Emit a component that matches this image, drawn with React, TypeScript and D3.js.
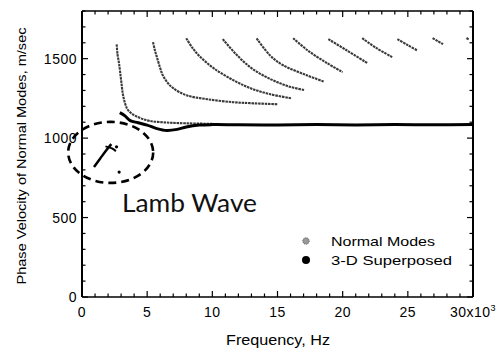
import React from 'react';
import * as d3 from 'd3';

// --- chart data (frequency in kHz, phase velocity in m/sec) ---
const xTicksMajor = [0, 5, 10, 15, 20, 25, 30];
const yTicksMajor = [0, 500, 1000, 1500];

// normal modes, one list of [freq, velocity] per mode
const mode1: [number, number][] = [[2.66, 1590], [2.72, 1530], [2.84, 1470], [2.95, 1400], [3.05, 1330], [3.15, 1270], [3.3, 1220], [3.5, 1180], [3.9, 1150], [4.5, 1125], [5.2, 1108], [6.5, 1098], [8, 1093], [10, 1090]];
const mode2: [number, number][] = [[5.45, 1604], [5.6, 1550], [5.75, 1509], [6.0, 1440], [6.2, 1396], [6.6, 1345], [7.0, 1314], [8.0, 1270], [9.6, 1245], [11.6, 1226], [12.9, 1220], [15.0, 1213]];
const mode3: [number, number][] = [[8.0, 1629], [8.5, 1565], [9.1, 1509], [10.1, 1440], [11.6, 1365], [12.9, 1315], [14.4, 1277], [16.1, 1250]];
const mode4: [number, number][] = [[10.8, 1623], [11.8, 1530], [12.9, 1447], [14.0, 1390], [15.0, 1352], [16.0, 1322], [17.1, 1302]];
const mode5: [number, number][] = [[13.4, 1628], [14.4, 1523], [15.4, 1460], [17.2, 1397], [18.6, 1355]];
const mode6: [number, number][] = [[16.2, 1629], [17.3, 1553], [18.8, 1472], [20.0, 1415]];
const mode7: [number, number][] = [[18.9, 1623], [20.3, 1553], [21.9, 1472]];
const mode8: [number, number][] = [[21.5, 1629], [22.6, 1566], [23.8, 1510]];
const mode9: [number, number][] = [[24.2, 1623], [25.0, 1585], [25.7, 1553]];
const mode10: [number, number][] = [[26.9, 1629], [27.3, 1610], [27.7, 1591]];
const mode11: [number, number][] = [[29.5, 1630], [29.7, 1620]];
const normalModes = [mode1, mode2, mode3, mode4, mode5, mode6, mode7, mode8, mode9, mode10, mode11];

// 3-D superposed result
const superMain: [number, number][] = [[2.9, 1160], [3.3, 1140], [3.7, 1110], [4.3, 1097], [5.0, 1082], [5.75, 1060], [6.5, 1048], [7.3, 1055], [8.0, 1070], [9.0, 1082], [10, 1085], [12, 1084], [15, 1083], [18, 1085], [21, 1083], [24, 1085], [27, 1084], [30, 1085]];
const superLow: [number, number][] = [[0.92, 818], [1.4, 872], [1.85, 922], [2.25, 962]];
const superBar: [number, number][] = [[1.8, 948], [2.3, 935], [2.6, 918]];
const superDots: [number, number][] = [[2.65, 945], [2.85, 786]];

const W = 502, H = 348;
const M = { left: 82, right: 473, top: 11, bottom: 297 };

const App: React.FC = () => {
    const x = d3.scaleLinear().domain([0, 30]).range([M.left, M.right]);
    const y = d3.scaleLinear().domain([0, 1800]).range([M.bottom, M.top]);

    const line = d3.line<[number, number]>()
        .x(d => x(d[0]))
        .y(d => y(d[1]))
        .curve(d3.curveCatmullRom);

    const xMinor = d3.range(0, 31, 1);
    const yMinor = d3.range(0, 1801, 100);
    const font = "'Liberation Sans', Arial, sans-serif";

    return (
        <svg width={W} height={H} style={{ position: 'absolute', left: 0, top: 0, background: '#fff' }}>
            <defs>
                <clipPath id="plot">
                    <rect x={M.left} y={M.top} width={M.right - M.left} height={M.bottom - M.top} />
                </clipPath>
            </defs>

            {/* normal modes */}
            <g clipPath="url(#plot)">
                {normalModes.map((m, i) => (
                    <path key={i} d={line(m) || ''} fill="none" stroke="#3a3a3a" strokeWidth={2.1} strokeDasharray="2.5 0.8" />
                ))}
                {/* 3-D superposed */}
                <path d={line(superMain) || ''} fill="none" stroke="#000" strokeWidth={3} />
                <path d={line(superLow) || ''} fill="none" stroke="#000" strokeWidth={2.5} />
                <path d={line(superBar) || ''} fill="none" stroke="#000" strokeWidth={2} />
                {superDots.map((d, i) => (
                    <circle key={i} cx={x(d[0])} cy={y(d[1])} r={1.6} fill="#000" />
                ))}
            </g>

            {/* frame */}
            <line x1={M.left} x2={M.left} y1={M.top} y2={M.bottom} stroke="#000" strokeWidth={2} />
            <line x1={M.right} x2={M.right} y1={M.top} y2={M.bottom} stroke="#000" strokeWidth={2} />
            <line x1={M.left} x2={M.right} y1={M.bottom} y2={M.bottom} stroke="#000" strokeWidth={1.5} />
            <line x1={M.left} x2={M.right} y1={M.top} y2={M.top} stroke="#000" strokeWidth={1.5} />

            {/* x ticks, inward, bottom and top */}
            {xMinor.map(v => {
                const len = v % 5 === 0 ? 6 : 3.5;
                return (
                    <g key={'x' + v}>
                        <line x1={x(v)} x2={x(v)} y1={M.bottom} y2={M.bottom - len} stroke="#000" strokeWidth={1.2} />
                        <line x1={x(v)} x2={x(v)} y1={M.top} y2={M.top + len} stroke="#000" strokeWidth={1.2} />
                    </g>
                );
            })}
            {/* y ticks, inward, left and right */}
            {yMinor.map(v => {
                const len = v % 500 === 0 ? 6 : 3.5;
                return (
                    <g key={'y' + v}>
                        <line x1={M.left} x2={M.left + len} y1={y(v)} y2={y(v)} stroke="#000" strokeWidth={1.2} />
                        <line x1={M.right} x2={M.right - len} y1={y(v)} y2={y(v)} stroke="#000" strokeWidth={1.2} />
                    </g>
                );
            })}

            {/* tick labels */}
            {xTicksMajor.map(v => (
                <text key={'xl' + v} x={x(v)} y={316.5} textAnchor="middle" fontFamily={font} fontSize={14} letterSpacing={0.5}>
                    {v === 30 ? <>30x10<tspan dy={-6} fontSize={9}>3</tspan></> : v}
                </text>
            ))}
            {yTicksMajor.map(v => (
                <text key={'yl' + v} x={77} y={y(v) + 5} textAnchor="end" fontFamily={font} fontSize={14} letterSpacing={0.5}>
                    {v}
                </text>
            ))}

            {/* axis titles */}
            <text x={278} y={345} textAnchor="middle" fontFamily={font} fontSize={14} textLength={104} lengthAdjust="spacingAndGlyphs">
                Frequency, Hz
            </text>
            <text transform="translate(26,156) rotate(-90)" textAnchor="middle" fontFamily={font} fontSize={13} textLength={257} lengthAdjust="spacingAndGlyphs">
                Phase Velocity of Normal Modes, m/sec
            </text>

            {/* annotation */}
            <ellipse cx={x(2.2)} cy={y(910)} rx={42.5} ry={30.5} fill="none" stroke="#000" strokeWidth={2.6} strokeDasharray="8 5" />
            <text x={122} y={212} fontFamily="Lato, 'Open Sans', sans-serif" fontSize={25} textLength={135} lengthAdjust="spacingAndGlyphs" fill="#111">
                Lamb Wave
            </text>

            {/* legend */}
            <circle cx={306} cy={241} r={3.2} fill="#999" stroke="#555" strokeWidth={1} strokeDasharray="1 1" />
            <text x={331} y={245.5} fontFamily={font} fontSize={13} textLength={104} lengthAdjust="spacingAndGlyphs">Normal Modes</text>
            <circle cx={306} cy={260} r={4} fill="#000" />
            <text x={331} y={264.5} fontFamily={font} fontSize={13} textLength={121} lengthAdjust="spacingAndGlyphs">3-D Superposed</text>
        </svg>
    );
};

export default App;
